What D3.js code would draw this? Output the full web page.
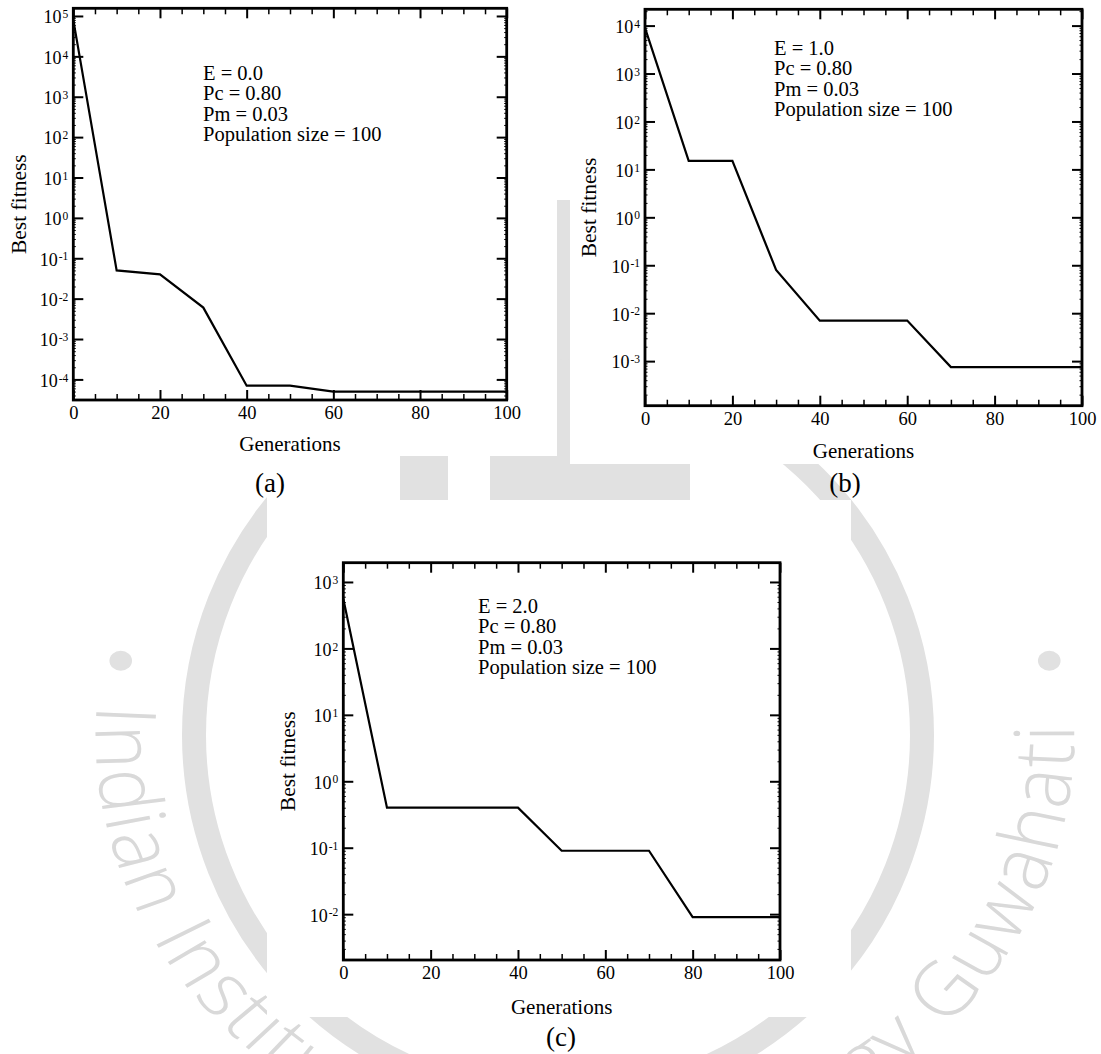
<!DOCTYPE html>
<html>
<head>
<meta charset="utf-8">
<script src="https://cdnjs.cloudflare.com/ajax/libs/d3/7.8.5/d3.min.js"></script>
<style>
  body { margin: 0; background: #fff; }
  svg { display: block; }
  .serif { font-family: "Liberation Serif", "Times New Roman", serif; fill: #000; }
</style>
</head>
<body>
<div id="chart"></div>
<script>
// ---------- data ----------
var generations = [0, 10, 20, 30, 40, 50, 60, 70, 80, 90, 100];
var fitnessA = [8e4, 0.05, 0.04, 0.006, 7e-5, 7e-5, 5e-5, 5e-5, 5e-5, 5e-5, 5e-5];
var fitnessB = [9e3, 15, 15, 0.08, 0.007, 0.007, 0.007, 7.5e-4, 7.5e-4, 7.5e-4, 7.5e-4];
var fitnessC = [560, 0.4, 0.4, 0.4, 0.4, 0.09, 0.09, 0.09, 0.009, 0.009, 0.009];

var xMajorTicks = [0, 20, 40, 60, 80, 100];
var xMinorTicks = [5, 10, 15, 25, 30, 35, 45, 50, 55, 65, 70, 75, 85, 90, 95];
var expsA = [-4, -3, -2, -1, 0, 1, 2, 3, 4, 5];
var expsB = [-3, -2, -1, 0, 1, 2, 3, 4];
var expsC = [-2, -1, 0, 1, 2, 3];

var notesA = ["E = 0.0", "Pc = 0.80", "Pm = 0.03", "Population size = 100"];
var notesB = ["E = 1.0", "Pc = 0.80", "Pm = 0.03", "Population size = 100"];
var notesC = ["E = 2.0", "Pc = 0.80", "Pm = 0.03", "Population size = 100"];

var W = 1101, H = 1054;
var svg = d3.select("#chart").append("svg").attr("width", W).attr("height", H);

// ---------- faint watermark behind the panels ----------
var wm = svg.append("g").attr("class", "watermark");
var wcol = "#e1e1e1";
wm.append("rect").attr("x", 557).attr("y", 200).attr("width", 13).attr("height", 300).attr("fill", wcol);
wm.append("rect").attr("x", 400).attr("y", 456).attr("width", 290).attr("height", 44).attr("fill", wcol);
wm.append("rect").attr("x", 448).attr("y", 456).attr("width", 42).attr("height", 44).attr("fill", "#fff");

// inner ring
wm.append("circle").attr("cx", 558).attr("cy", 735).attr("r", 364)
  .attr("fill", "none").attr("stroke", wcol).attr("stroke-width", 24);

// lettering around the seal (slightly stretched sideways, as in the scan)
var seal = wm.append("g").attr("transform", "translate(585,735) scale(1.13,1)");
var rT = 433, a0 = 184 * Math.PI / 180, a1 = -2 * Math.PI / 180;
seal.append("path").attr("id", "sealArc").attr("fill", "none")
  .attr("d", "M" + rT * Math.cos(a0) + "," + rT * Math.sin(a0) +
             " A" + rT + "," + rT + " 0 1 0 " + rT * Math.cos(a1) + "," + rT * Math.sin(a1));
seal.append("text")
  .style("font-family", "'Open Sans', 'Liberation Sans', sans-serif")
  .style("font-weight", "300")
  .style("font-size", "74px").attr("fill", "#d9d9d9")
  .append("textPath").attr("href", "#sealArc")
  .attr("textLength", 1400).attr("lengthAdjust", "spacing")
  .text("Indian Institute of Technology Guwahati");
[[-0.99, -0.15], [0.99, -0.15]].forEach(function (d) {
  seal.append("circle").attr("cx", d[0] * 415).attr("cy", d[1] * 415 - 12).attr("r", 10).attr("fill", wcol);
});

// white backgrounds of the three figure images
wm.append("rect").attr("x", 0).attr("y", 0).attr("width", 557).attr("height", 456).attr("fill", "#fff");
wm.append("rect").attr("x", 570).attr("y", 0).attr("width", 531).attr("height", 464).attr("fill", "#fff");
wm.append("rect").attr("x", 267).attr("y", 500).attr("width", 584).attr("height", 517).attr("fill", "#fff");
wm.append("rect").attr("x", 267).attr("y", 456).attr("width", 133).attr("height", 44).attr("fill", "#fff");

// ---------- panels ----------
var panels = [
  { left: 73.3, right: 506.7, top: 8.3, bottom: 400, lo: -4.51, hi: 5.19, exps: expsA, vals: fitnessA,
    notes: notesA, noteX: 203, noteY: 80, yLabX: 26, xLabY: 451, tag: "(a)", tagX: 270, tagY: 492 },
  { left: 645, right: 1082, top: 9.3, bottom: 405.7, lo: -3.93, hi: 4.34, exps: expsB, vals: fitnessB,
    notes: notesB, noteX: 774, noteY: 55, yLabX: 596, xLabY: 458, tag: "(b)", tagX: 845, tagY: 492 },
  { left: 343.3, right: 780, top: 562.7, bottom: 960, lo: -2.69, hi: 3.29, exps: expsC, vals: fitnessC,
    notes: notesC, noteX: 478, noteY: 613, yLabX: 295, xLabY: 1014, tag: "(c)", tagX: 561, tagY: 1046 }
];

panels.forEach(drawPanel);

function drawPanel(p) {
  var g = svg.append("g");
  var x = d3.scaleLinear().domain([0, 100]).range([p.left, p.right]);
  var y = d3.scaleLog().domain([Math.pow(10, p.lo), Math.pow(10, p.hi)]).range([p.bottom, p.top]);

  var majorY = p.exps.map(function (e) { return Math.pow(10, e); });
  var minorY = [];
  for (var d = Math.floor(p.lo); d <= Math.ceil(p.hi); d++) {
    for (var m = 2; m <= 9; m++) {
      var v = m * Math.pow(10, d);
      if (v > Math.pow(10, p.lo) && v < Math.pow(10, p.hi)) minorY.push(v);
    }
  }

  function styleAxis(sel, w, keepText) {
    sel.select(".domain").remove();
    sel.selectAll("line").attr("stroke", "#000").attr("stroke-width", w);
    if (!keepText) sel.selectAll("text").remove();
  }

  // bottom: labelled majors, minors
  g.append("g").attr("transform", "translate(0," + p.bottom + ")")
    .call(d3.axisBottom(x).tickValues(xMajorTicks).tickSizeInner(-10).tickSizeOuter(0).tickPadding(6))
    .call(styleAxis, 2, true)
    .call(function (s) {
      s.attr("font-family", null).attr("font-size", null);
      s.selectAll("text").attr("class", "serif").style("font-size", "18.5px").attr("fill", "#000");
    });
  g.append("g").attr("transform", "translate(0," + p.bottom + ")")
    .call(d3.axisBottom(x).tickValues(xMinorTicks).tickSizeInner(-6).tickSizeOuter(0))
    .call(styleAxis, 1.5);
  // top
  g.append("g").attr("transform", "translate(0," + p.top + ")")
    .call(d3.axisTop(x).tickValues(xMajorTicks).tickSizeInner(-10).tickSizeOuter(0))
    .call(styleAxis, 2);
  g.append("g").attr("transform", "translate(0," + p.top + ")")
    .call(d3.axisTop(x).tickValues(xMinorTicks).tickSizeInner(-6).tickSizeOuter(0))
    .call(styleAxis, 1.5);

  // left: labelled decades with superscript exponents
  var leftAx = g.append("g").attr("transform", "translate(" + p.left + ",0)")
    .call(d3.axisLeft(y).tickValues(majorY).tickSizeInner(-10).tickSizeOuter(0).tickPadding(5))
    .call(styleAxis, 2, true);
  leftAx.attr("font-family", null).attr("font-size", null);
  leftAx.selectAll("text").each(function (v) {
    var t = d3.select(this).text(null).attr("class", "serif").attr("dy", "0.38em")
      .style("font-size", "18px").attr("fill", "#000");
    t.append("tspan").text("10");
    t.append("tspan").attr("dx", 1).attr("dy", "-0.45em").style("font-size", "11.5px")
      .text(Math.round(Math.log10(v)));
  });
  g.append("g").attr("transform", "translate(" + p.left + ",0)")
    .call(d3.axisLeft(y).tickValues(minorY).tickSizeInner(-2.5).tickSizeOuter(0))
    .call(styleAxis, 1);
  // right
  g.append("g").attr("transform", "translate(" + p.right + ",0)")
    .call(d3.axisRight(y).tickValues(majorY).tickSizeInner(-10).tickSizeOuter(0))
    .call(styleAxis, 2);
  g.append("g").attr("transform", "translate(" + p.right + ",0)")
    .call(d3.axisRight(y).tickValues(minorY).tickSizeInner(-2.5).tickSizeOuter(0))
    .call(styleAxis, 1);

  // frame
  g.append("rect")
    .attr("x", p.left).attr("y", p.top)
    .attr("width", p.right - p.left).attr("height", p.bottom - p.top)
    .attr("fill", "none").attr("stroke", "#000").attr("stroke-width", 2.8);

  // curve
  var line = d3.line()
    .x(function (d, i) { return x(generations[i]); })
    .y(function (d) { return y(d); });
  g.append("path").datum(p.vals)
    .attr("d", line).attr("fill", "none").attr("stroke", "#000").attr("stroke-width", 2.2)
    .attr("stroke-linejoin", "miter");

  // parameter notes
  var notes = g.append("text").attr("class", "serif").style("font-size", "20.5px");
  p.notes.forEach(function (s, i) {
    notes.append("tspan").attr("x", p.noteX).attr("y", p.noteY + i * 20.4).text(s);
  });

  // axis titles
  g.append("text").attr("class", "serif").style("font-size", "21.5px")
    .attr("text-anchor", "middle")
    .attr("transform", "translate(" + p.yLabX + "," + (p.top + p.bottom) / 2 + ") rotate(-90)")
    .text("Best fitness");
  g.append("text").attr("class", "serif").style("font-size", "21px")
    .attr("text-anchor", "middle")
    .attr("x", (p.left + p.right) / 2).attr("y", p.xLabY)
    .text("Generations");

  // panel tag
  g.append("text").attr("class", "serif").style("font-size", "27px")
    .attr("text-anchor", "middle").attr("x", p.tagX).attr("y", p.tagY)
    .text(p.tag);
}
</script>
</body>
</html>
